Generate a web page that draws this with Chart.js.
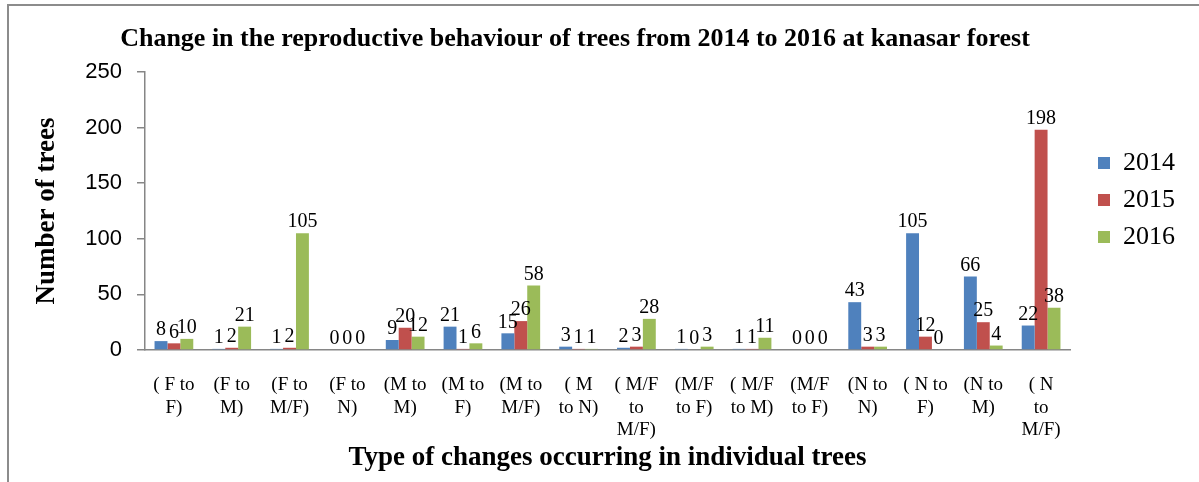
<!DOCTYPE html>
<html>
<head>
<meta charset="utf-8">
<script src="https://cdn.jsdelivr.net/npm/chart.js@4/dist/chart.umd.min.js"></script>
<style>
  html, body { margin: 0; padding: 0; background: #fff; }
  #wrap { position: relative; width: 1199px; height: 482px; overflow: hidden; }
  #frame { position: absolute; left: 7px; top: 4px; width: 1300px; height: 600px;
           border-left: 2px solid #8c8c8c; border-top: 2px solid #8c8c8c; }
  canvas { position: absolute; left: 0; top: 0; }
</style>
</head>
<body>
<div id="wrap">
  <div id="frame"></div>
  <canvas id="treeChart" width="1199" height="482"></canvas>
</div>
<script>
// category labels, already split into lines as in the original axis
var categories = [
    ['( F to', 'F)'], ['(F to', 'M)'], ['(F to', 'M/F)'], ['(F to', 'N)'],
    ['(M to', 'M)'], ['(M to', 'F)'], ['(M to', 'M/F)'], ['( M', 'to N)'],
    ['( M/F', 'to', 'M/F)'], ['(M/F', 'to F)'], ['( M/F', 'to M)'], ['(M/F', 'to F)'],
    ['(N to', 'N)'], ['( N to', 'F)'], ['(N to', 'M)'], ['( N', 'to', 'M/F)']
];
var values2014 = [8, 1, 1, 0, 9, 21, 15, 3, 2, 1, 1, 0, 43, 105, 66, 22];
var values2015 = [6, 2, 2, 0, 20, 1, 26, 1, 3, 0, 1, 0, 3, 12, 25, 198];
var values2016 = [10, 21, 105, 0, 12, 6, 58, 1, 28, 3, 11, 0, 3, 0, 4, 38];
var yTicks = [0, 50, 100, 150, 200, 250];

var chartTitle = 'Change in the reproductive behaviour of trees from 2014 to 2016 at kanasar forest';
var serif = '"Liberation Serif", "Times New Roman", serif';
var axisGrey = '#868686';

// value labels above each bar
var barLabels = {
    id: 'barLabels',
    afterDatasetsDraw: function (chart) {
        var ctx = chart.ctx;
        ctx.save();
        ctx.font = '20px ' + serif;
        ctx.fillStyle = '#000';
        ctx.textAlign = 'center';
        ctx.textBaseline = 'bottom';
        chart.data.datasets.forEach(function (ds, i) {
            chart.getDatasetMeta(i).data.forEach(function (bar, j) {
                ctx.fillText(ds.data[j], bar.x, bar.y - 1);
            });
        });
        ctx.restore();
    }
};

// chart title, placed like the original (a bit left of centre)
var topTitle = {
    id: 'topTitle',
    beforeDraw: function (chart) {
        var ctx = chart.ctx;
        ctx.save();
        ctx.font = 'bold 26px ' + serif;
        ctx.fillStyle = '#000';
        ctx.textAlign = 'center';
        ctx.textBaseline = 'middle';
        ctx.fillText(chartTitle, 575, 39);
        ctx.restore();
    }
};

// move legend up next to the middle of the plot
var legendShift = {
    id: 'legendShift',
    afterLayout: function (chart) {
        chart.legend.top -= 75;
        chart.legend.bottom -= 75;
    }
};

var ctx = document.getElementById('treeChart').getContext('2d');
var myChart = new Chart(ctx, {
    type: 'bar',
    data: {
        labels: categories,
        datasets: [{
            label: '2014',
            data: values2014,
            backgroundColor: '#4F81BD'
        }, {
            label: '2015',
            data: values2015,
            backgroundColor: '#C0504D'
        }, {
            label: '2016',
            data: values2016,
            backgroundColor: '#9BBB59'
        }]
    },
    plugins: [barLabels, topTitle, legendShift],
    options: {
        responsive: false,
        animation: false,
        layout: {
            padding: { left: 10, right: 14, top: 72, bottom: 4 }
        },
        datasets: {
            bar: { categoryPercentage: 0.67, barPercentage: 1 }
        },
        plugins: {
            tooltip: { enabled: false },
            title: { display: false },
            legend: {
                position: 'right',
                labels: {
                    boxWidth: 12,
                    boxHeight: 12,
                    padding: 11,
                    color: '#000',
                    font: { family: serif, size: 26 }
                }
            }
        },
        scales: {
            x: {
                afterFit: function (scale) { scale.height = 128; },
                grid: { display: false, drawTicks: false },
                border: { display: true, color: axisGrey, width: 1.5 },
                ticks: {
                    autoSkip: false,
                    maxRotation: 0,
                    minRotation: 0,
                    padding: 24,
                    color: '#000',
                    font: { family: serif, size: 19, lineHeight: 1.18 }
                },
                title: {
                    display: true,
                    text: 'Type of changes occurring in individual trees',
                    color: '#000',
                    font: { family: serif, size: 27, weight: 'bold' },
                    padding: { top: 0, bottom: 4 }
                }
            },
            y: {
                min: 0,
                max: 250,
                afterBuildTicks: function (scale) {
                    scale.ticks = yTicks.map(function (v) { return { value: v }; });
                },
                afterFit: function (scale) { scale.width = 135; },
                grid: { drawOnChartArea: false, drawTicks: true, tickLength: 8, color: axisGrey, lineWidth: 1.5 },
                border: { display: true, color: axisGrey, width: 1.5 },
                ticks: {
                    padding: 15,
                    color: '#000',
                    font: { family: '"Liberation Sans", Arial, sans-serif', size: 22 }
                },
                title: {
                    display: true,
                    text: 'Number of trees',
                    color: '#000',
                    font: { family: serif, size: 27, weight: 'bold' },
                    padding: { top: 21, bottom: 0 }
                }
            },
            // empty spacer between plot and legend
            gap: {
                type: 'linear',
                position: 'right',
                display: true,
                grid: { display: false },
                border: { display: false },
                ticks: { display: false },
                afterFit: function (scale) { scale.width = 17; }
            }
        }
    }
});
</script>
</body>
</html>
